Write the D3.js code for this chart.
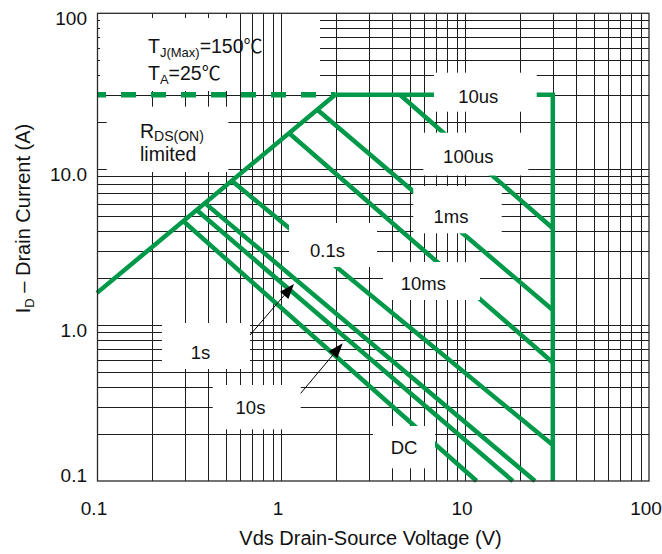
<!DOCTYPE html>
<html><head><meta charset="utf-8">
<script src="https://cdn.jsdelivr.net/npm/d3@7"></script>
<style>
body{margin:0;background:#fff;}
svg{display:block;font-family:"Liberation Sans",Arial,Helvetica,sans-serif;}
</style>
</head><body>
<svg id="chart" width="662" height="554"></svg>
<script>
// ---------------- data ----------------
const xTickValues = [0.1, 1, 10, 100];
const xTickLabels = ["0.1", "1", "10", "100"];
const yTickValues = [0.1, 1, 10, 100];
const yTickLabels = ["0.1", "1.0", "10.0", "100"];

// RDS(on) limited line (V, A)
const rdsV = [0.1, 1.97];
const rdsI = [1.61, 30];
// package current limit and BVdss limit
const currentLimitA = 30;
const voltageLimitV = 30;

// pulse-width limit lines: start point on the RDS / current limit, end at Vmax or 0.1 A
const pulseNames  = ["10us", "100us", "1ms", "10ms", "0.1s", "1s", "10s/DC"];
const pulseStartV = [4.43, 1.583, 1.105, 0.54, 0.386, 0.348, 0.294];
const pulseStartI = [30, 23.97, 17.07, 8.42, 6.06, 5.47, 4.65];
const pulseEndV   = [30, 30, 30, 30, 24.0, 18.2, 11.57];
const pulseEndI   = [4.18, 1.25, 0.575, 0.170, 0.1, 0.1, 0.1];

// ---------------- layout ----------------
const svg = d3.select("#chart");
const plot = {left: 97, right: 649, top: 13.3, bottom: 481};
const x = d3.scaleLog().domain([0.1, 100]).range([plot.left, plot.right]);
const y = d3.scaleLog().domain([0.1, 100]).range([plot.bottom, plot.top]);
const GREEN = "#00994A";
const GRID = "#1e1e1e";
const px = v => Math.round(x(v)) + 0.5;
const py = v => Math.round(y(v)) + 0.5;

svg.append("rect").attr("width", 662).attr("height", 554).attr("fill", "#fff");

// grid values (1..9 per decade)
const gridVals = [];
[0.1, 1, 10].forEach(d => { for (let k = 1; k <= 9; k++) gridVals.push(+(k * d).toPrecision(3)); });
gridVals.push(100);
const inner = gridVals.filter(v => v > 0.1 && v < 100);

const g = svg.append("g");
// horizontal grid
g.selectAll("line.h").data(inner).join("line")
  .attr("x1", plot.left).attr("x2", plot.right)
  .attr("y1", d => py(d)).attr("y2", d => py(d))
  .attr("stroke", GRID).attr("stroke-width", 1);
// white area hiding upper-left horizontals
g.append("rect").attr("x", 100).attr("y", 18).attr("width", 220).attr("height", 73).attr("fill", "#fff");
// vertical grid
g.selectAll("line.v").data(inner).join("line")
  .attr("y1", plot.top).attr("y2", plot.bottom)
  .attr("x1", d => px(d)).attr("x2", d => px(d))
  .attr("stroke", GRID).attr("stroke-width", 1);
// white box behind the temperature note
g.append("rect").attr("x", 100).attr("y", 18).attr("width", 138).attr("height", 73).attr("fill", "#fff");

// ---------------- SOA lines ----------------
const line = d3.line().x(d => x(d[0])).y(d => y(d[1]));
const lines = svg.append("g").attr("fill", "none").attr("stroke", GREEN);

// dashed current limit up to RDS intersection
lines.append("path")
  .attr("d", line([[0.1, currentLimitA], [rdsV[1], currentLimitA]]))
  .attr("stroke-width", 5.5).attr("stroke-dasharray", "15,15").attr("stroke-dashoffset", 6);
// solid current limit + voltage limit
lines.append("path")
  .attr("d", line([[rdsV[1], currentLimitA], [voltageLimitV, currentLimitA], [voltageLimitV, 0.1]]))
  .attr("stroke-width", 4.5).attr("stroke-linejoin", "miter");
// RDS line
lines.append("path")
  .attr("d", line(rdsV.map((v, i) => [v, rdsI[i]])))
  .attr("stroke-width", 4.5);
// pulse lines
lines.selectAll("path.p").data(pulseNames).join("path")
  .attr("d", (n, i) => line([[pulseStartV[i], pulseStartI[i]], [pulseEndV[i], pulseEndI[i]]]))
  .attr("stroke-width", 4.5);

// ---------------- label boxes (white backgrounds) ----------------
const boxes = [
  [106.7, 228.3, 106.7, 172],   // RDS(ON) limited
  [434, 536.7, 72.7, 111.7],    // 10us
  [423.3, 528.3, 132.7, 175.5], // 100us
  [413.3, 501.7, 186, 233.3],   // 1ms
  [289, 377, 223, 267],         // 0.1s
  [383, 480, 262, 300],         // 10ms
  [162, 250, 323, 369],         // 1s
  [212.7, 300.7, 385, 429.3],   // 10s
  [373, 435, 426, 468.3]        // DC
];
svg.append("g").selectAll("rect").data(boxes).join("rect")
  .attr("x", d => d[0]).attr("y", d => d[2])
  .attr("width", d => d[1] - d[0]).attr("height", d => d[3] - d[2])
  .attr("fill", "#fff");

// frame
svg.append("rect").attr("x", plot.left + 0.5).attr("y", plot.top)
  .attr("width", plot.right - plot.left - 0.5).attr("height", plot.bottom - plot.top)
  .attr("fill", "none").attr("stroke", "#2a2a2a").attr("stroke-width", 1.3);

// ---------------- axes labels ----------------
const txt = svg.append("g").attr("fill", "#111");
txt.selectAll("text.xt").data(xTickValues).join("text")
  .attr("x", d => x(d) - 3).attr("y", 514.5)
  .attr("text-anchor", "middle").attr("font-size", 19)
  .text((d, i) => xTickLabels[i]);
txt.selectAll("text.yt").data(yTickValues).join("text")
  .attr("x", 87).attr("y", d => Math.min(y(d) + 11.5, plot.bottom + 1))
  .attr("text-anchor", "end").attr("font-size", 19)
  .text((d, i) => yTickLabels[i]);

txt.append("text").attr("x", 370.5).attr("y", 544.5).attr("text-anchor", "middle")
  .attr("font-size", 20).text("Vds Drain-Source Voltage (V)");

const yt = txt.append("text").attr("transform", "translate(29.5,218.5) rotate(-90)")
  .attr("text-anchor", "middle").attr("font-size", 20);
yt.append("tspan").text("I");
yt.append("tspan").attr("font-size", 13).attr("dy", 4).text("D");
yt.append("tspan").attr("dy", -4).text(" \u2013 Drain Current (A)");

// temperature note
const CJK = "'Noto Sans CJK SC','Noto Sans CJK JP',sans-serif";
const t1 = txt.append("text").attr("x", 148).attr("y", 53.3).attr("font-size", 19.5);
t1.append("tspan").text("T");
t1.append("tspan").attr("font-size", 13).attr("dy", 4).text("J(Max)");
t1.append("tspan").attr("dy", -4).text("=150");
t1.append("tspan").attr("font-family", CJK).attr("font-size", 19).text("\u2103");
const t2 = txt.append("text").attr("x", 148).attr("y", 80).attr("font-size", 19.5);
t2.append("tspan").text("T");
t2.append("tspan").attr("font-size", 13).attr("dy", 4).text("A");
t2.append("tspan").attr("dy", -4).text("=25");
t2.append("tspan").attr("font-family", CJK).attr("font-size", 19).text("\u2103");

const r1 = txt.append("text").attr("x", 140).attr("y", 138.3).attr("font-size", 19.5);
r1.append("tspan").text("R");
r1.append("tspan").attr("font-size", 14).attr("dy", 3).text("DS(ON)");
txt.append("text").attr("x", 140).attr("y", 161).attr("font-size", 19.5).text("limited");

// pulse labels
const pulseTexts = [
  ["10us", 478.3, 103.3], ["100us", 468.3, 163.3], ["1ms", 451, 223.3],
  ["0.1s", 327.5, 256.5], ["10ms", 423.3, 290], ["1s", 200.5, 358.5],
  ["10s", 250.5, 413.5], ["DC", 404, 454]
];
txt.selectAll("text.pl").data(pulseTexts).join("text")
  .attr("x", d => d[1]).attr("y", d => d[2]).attr("text-anchor", "middle")
  .attr("font-size", 18.5).text(d => d[0]);

// arrows
const arrows = [[250, 335, 294, 284], [300.7, 393.3, 342.7, 343.3]];
const ag = svg.append("g");
arrows.forEach(a => {
  const [x1, y1, x2, y2] = a;
  const dx = x2 - x1, dy = y2 - y1, L = Math.hypot(dx, dy);
  const ux = dx / L, uy = dy / L;
  const hl = 15, hw = 5.5;
  const bx = x2 - ux * hl, by = y2 - uy * hl;
  ag.append("line").attr("x1", x1).attr("y1", y1).attr("x2", bx).attr("y2", by)
    .attr("stroke", "#000").attr("stroke-width", 1);
  ag.append("path").attr("d", `M${x2},${y2}L${bx - uy * hw},${by + ux * hw}L${bx + uy * hw},${by - ux * hw}Z`)
    .attr("fill", "#000");
});
</script>
</body></html>
